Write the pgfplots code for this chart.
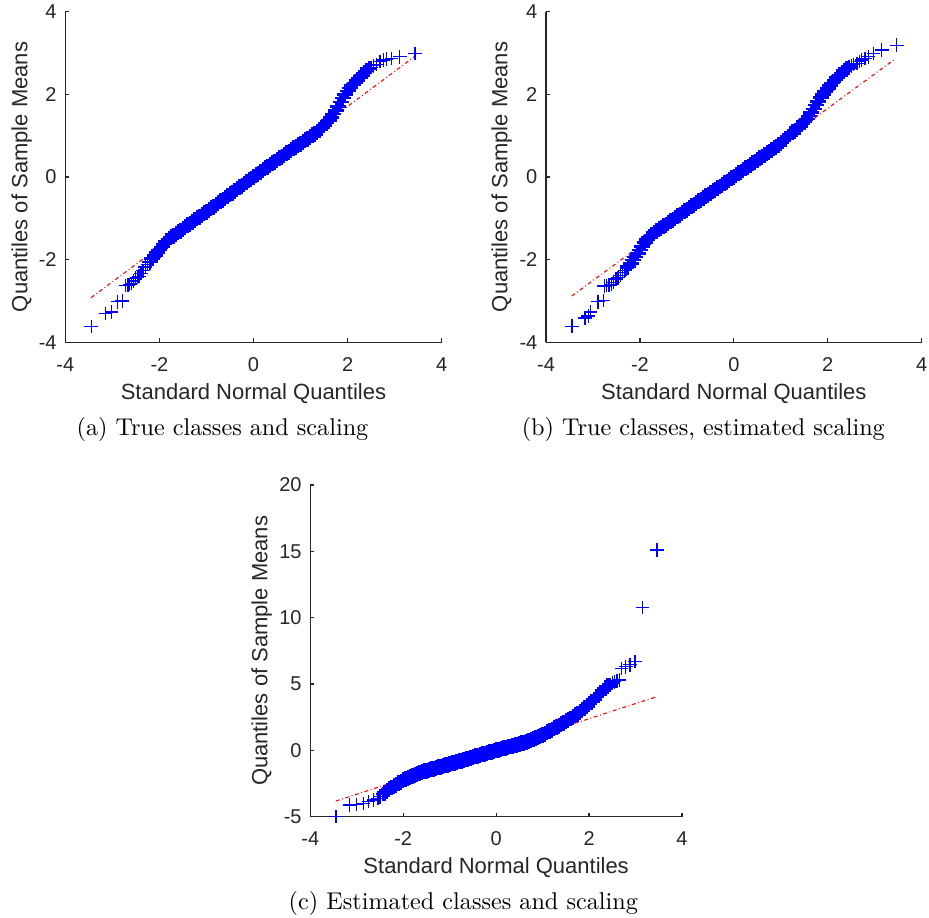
\documentclass[border=0pt]{standalone}
\usepackage{fontspec}
\usepackage{pgfplots}
\pgfplotsset{compat=1.18}
\newfontfamily\lsans{Liberation Sans}
\definecolor{axgray}{gray}{0.15}
\pgfplotsset{
  qq/.style={
    scale only axis, anchor=south west,
    xmin=-4, xmax=4,
    axis x line*=bottom, axis y line*=left,
    axis line style={-, draw=axgray, line width=0.5pt},
    tick style={draw=axgray, line width=0.5pt},
    tick align=inside,
    major tick length=1.65pt,
    xtick={-4,-2,0,2,4}, xticklabels={-4,-2,0,2,4},
    ticklabel style={font=\lsans\fontsize{8.26}{10}\selectfont, text=axgray},
    xticklabel style={anchor=base, yshift=-12.1pt, inner sep=0pt},
    yticklabel style={anchor=east, inner sep=0pt, xshift=-3.4pt},
    label style={font=\lsans\fontsize{9.09}{11}\selectfont, text=axgray},
    xlabel={Standard Normal Quantiles},
    ylabel={Quantiles of Sample Means},
    clip=false,
  },
  qqline/.style={red, line width=0.45pt, dash pattern=on 1.6pt off 1.1pt on 0.35pt off 1.1pt},
  qqpts/.style={only marks, mark=+, color=blue, mark size=2.8pt, mark options={line width=0.55pt}},
  qqdense/.style={only marks, mark=+, color=blue, mark size=3.3pt, mark options={line width=1.0pt}},
}
\begin{document}
\begin{tikzpicture}
% ---------------- (a)
\begin{axis}[qq, at={(26.98pt,237.89pt)}, width=155.54pt, height=136.61pt,
  ymin=-4, ymax=4, ytick={-4,-2,0,2,4}, yticklabels={-4,-2,0,2,4},
  xlabel style={at={(axis description cs:0.5,-0.1745)}, anchor=base},
  ylabel style={at={(axis description cs:-0.101,0.5)}, anchor=base}]
\addplot[qqline] coordinates {(-3.45,-2.92) (3.43,2.92)};
\addplot[qqpts] coordinates {
(-3.45,-3.62) (-3.15,-3.30) (-3.02,-3.27) (-2.89,-3.02) (-2.79,-3.00)
(-2.72,-2.63) (-2.67,-2.62) (-2.63,-2.60) (-2.59,-2.58) (-2.55,-2.52)
(-2.51,-2.45) (-2.47,-2.43) (-2.43,-2.40) (-2.39,-2.33) (-2.35,-2.26) (-2.30,-2.18)
(-2.25,-2.12)
(2.50,2.65) (2.55,2.69) (2.62,2.72) (2.69,2.79) (2.76,2.83) (2.83,2.85) (2.93,2.87)
(3.11,2.91) (3.43,2.99)
};
\addplot[qqdense] coordinates {
(-2.20,-2.05) (-2.15,-1.97) (-2.10,-1.90) (-2.05,-1.83) (-2.00,-1.76)
(-1.95,-1.69) (-1.90,-1.62) (-1.85,-1.56) (-1.80,-1.51) (-1.75,-1.46) (-1.70,-1.42)
(-1.65,-1.38) (-1.60,-1.34) (-1.55,-1.30) (-1.50,-1.26) (-1.45,-1.22) (-1.40,-1.17)
(-1.35,-1.13) (-1.30,-1.09) (-1.25,-1.05) (-1.20,-1.00) (-1.15,-0.96) (-1.10,-0.92)
(-1.05,-0.88) (-1.00,-0.84) (-0.95,-0.80) (-0.90,-0.76) (-0.85,-0.72) (-0.80,-0.67)
(-0.75,-0.63) (-0.70,-0.59) (-0.65,-0.55) (-0.60,-0.51) (-0.55,-0.46) (-0.50,-0.42)
(-0.45,-0.38) (-0.40,-0.34) (-0.35,-0.29) (-0.30,-0.25) (-0.25,-0.21) (-0.20,-0.17)
(-0.15,-0.12) (-0.10,-0.08) (-0.05,-0.04) (0.00,0.00) (0.05,0.04) (0.10,0.08)
(0.15,0.12) (0.20,0.17) (0.25,0.21) (0.30,0.25) (0.35,0.29) (0.40,0.33)
(0.45,0.37) (0.50,0.41) (0.55,0.45) (0.60,0.49) (0.65,0.53) (0.70,0.57)
(0.75,0.61) (0.80,0.65) (0.85,0.69) (0.90,0.73) (0.95,0.77) (1.00,0.81)
(1.05,0.85) (1.10,0.89) (1.15,0.93) (1.20,0.97) (1.25,1.01) (1.30,1.05)
(1.35,1.09) (1.40,1.14) (1.45,1.19) (1.50,1.25) (1.55,1.31) (1.60,1.37)
(1.65,1.44) (1.70,1.52) (1.75,1.61) (1.80,1.71) (1.85,1.81) (1.90,1.91)
(1.95,2.00) (2.00,2.08) (2.05,2.15) (2.10,2.22) (2.15,2.28) (2.20,2.34)
(2.25,2.40) (2.30,2.46) (2.35,2.51) (2.40,2.56) (2.45,2.61)
};
\end{axis}
% ---------------- (b)
\begin{axis}[qq, at={(225.62pt,237.89pt)}, width=155.25pt, height=136.61pt,
  ymin=-4, ymax=4, ytick={-4,-2,0,2,4}, yticklabels={-4,-2,0,2,4},
  xlabel style={at={(axis description cs:0.5,-0.1745)}, anchor=base},
  ylabel style={at={(axis description cs:-0.1025,0.5)}, anchor=base}]
\addplot[qqline] coordinates {(-3.45,-2.88) (3.45,2.87)};
\addplot[qqpts] coordinates {
(-3.45,-3.61) (-3.17,-3.41) (-3.10,-3.36) (-3.05,-3.27) (-2.89,-3.02) (-2.78,-2.99)
(-2.76,-2.64) (-2.71,-2.63) (-2.66,-2.62) (-2.61,-2.60) (-2.56,-2.55) (-2.51,-2.47)
(-2.47,-2.44) (-2.42,-2.38) (-2.37,-2.31) (-2.32,-2.26) (-2.28,-2.22)
(2.50,2.69) (2.55,2.72) (2.62,2.75) (2.68,2.80) (2.72,2.83) (2.79,2.87) (2.86,2.91)
(2.97,2.99) (3.15,3.07) (3.47,3.19)
};
\addplot[qqdense] coordinates {
(-2.25,-2.17) (-2.20,-2.09) (-2.15,-2.01) (-2.10,-1.93) (-2.05,-1.85) (-2.00,-1.77)
(-1.95,-1.68) (-1.90,-1.59) (-1.85,-1.51) (-1.80,-1.46) (-1.75,-1.41) (-1.70,-1.36)
(-1.65,-1.31) (-1.60,-1.27) (-1.55,-1.23) (-1.50,-1.19) (-1.45,-1.15) (-1.40,-1.11)
(-1.35,-1.07) (-1.30,-1.03) (-1.25,-0.99) (-1.20,-0.95) (-1.15,-0.91) (-1.10,-0.87)
(-1.05,-0.83) (-1.00,-0.79) (-0.95,-0.75) (-0.90,-0.71) (-0.85,-0.67) (-0.80,-0.63)
(-0.75,-0.59) (-0.70,-0.55) (-0.65,-0.51) (-0.60,-0.47) (-0.55,-0.43) (-0.50,-0.39)
(-0.45,-0.35) (-0.40,-0.31) (-0.35,-0.27) (-0.30,-0.23) (-0.25,-0.19) (-0.20,-0.15)
(-0.15,-0.11) (-0.10,-0.07) (-0.05,-0.03) (0.00,0.01) (0.05,0.05) (0.10,0.09)
(0.15,0.13) (0.20,0.17) (0.25,0.21) (0.30,0.25) (0.35,0.29) (0.40,0.33)
(0.45,0.37) (0.50,0.41) (0.55,0.45) (0.60,0.49) (0.65,0.53) (0.70,0.57)
(0.75,0.61) (0.80,0.65) (0.85,0.69) (0.90,0.73) (0.95,0.78) (1.00,0.83)
(1.05,0.88) (1.10,0.93) (1.15,0.98) (1.20,1.03) (1.25,1.08) (1.30,1.12)
(1.35,1.17) (1.40,1.22) (1.45,1.28) (1.50,1.34) (1.55,1.41) (1.60,1.48)
(1.65,1.56) (1.70,1.65) (1.75,1.74) (1.80,1.83) (1.85,1.92) (1.90,2.00)
(1.95,2.07) (2.00,2.14) (2.05,2.21) (2.10,2.28) (2.15,2.35) (2.20,2.41)
(2.25,2.46) (2.30,2.51) (2.35,2.56) (2.40,2.61) (2.45,2.65)
};
\end{axis}
% ---------------- (c)
\begin{axis}[qq, at={(128.22pt,41.86pt)}, width=153.59pt, height=137.07pt,
  ymin=-5, ymax=20, ytick={-5,0,5,10,15,20}, yticklabels={-5,0,5,10,15,20},
  xlabel style={at={(axis description cs:0.5,-0.1727)}, anchor=base},
  ylabel style={at={(axis description cs:-0.1157,0.5)}, anchor=base}]
\addplot[qqline] coordinates {(-3.45,-3.82) (3.46,4.05)};
\addplot[qqpts] coordinates {
(-3.45,-5.00) (-3.15,-4.12) (-3.00,-4.07) (-2.86,-3.99) (-2.75,-3.87) (-2.64,-3.74)
(-2.54,-3.62) (-2.50,-3.50) (-2.45,-3.30)
(2.45,4.96) (2.50,5.08) (2.55,5.17) (2.60,5.24)
(2.65,5.30) (2.70,6.18) (2.79,6.30) (2.88,6.45) (2.99,6.68) (3.15,10.78)
(3.46,15.10)
};
\addplot[qqdense] coordinates {
(-2.40,-3.18) (-2.35,-3.04) (-2.30,-2.92) (-2.25,-2.80) (-2.20,-2.69)
(-2.15,-2.58) (-2.10,-2.47) (-2.05,-2.36) (-2.00,-2.25) (-1.95,-2.15) (-1.90,-2.06)
(-1.85,-1.98) (-1.80,-1.91) (-1.75,-1.84) (-1.70,-1.77) (-1.65,-1.71) (-1.60,-1.65)
(-1.55,-1.59) (-1.50,-1.53) (-1.45,-1.47) (-1.40,-1.42) (-1.35,-1.37) (-1.30,-1.32)
(-1.25,-1.27) (-1.20,-1.22) (-1.15,-1.17) (-1.10,-1.12) (-1.05,-1.07) (-1.00,-1.02)
(-0.95,-0.97) (-0.90,-0.92) (-0.85,-0.87) (-0.80,-0.82) (-0.75,-0.77) (-0.70,-0.72)
(-0.65,-0.67) (-0.60,-0.62) (-0.55,-0.56) (-0.50,-0.51) (-0.45,-0.46) (-0.40,-0.41)
(-0.35,-0.36) (-0.30,-0.30) (-0.25,-0.25) (-0.20,-0.20) (-0.15,-0.15) (-0.10,-0.10)
(-0.05,-0.05) (0.00,0.02) (0.05,0.06) (0.10,0.11) (0.15,0.15) (0.20,0.20)
(0.25,0.24) (0.30,0.29) (0.35,0.33) (0.40,0.38) (0.45,0.43) (0.50,0.48)
(0.55,0.53) (0.60,0.59) (0.65,0.65) (0.70,0.71) (0.75,0.78) (0.80,0.85)
(0.85,0.92) (0.90,1.00) (0.95,1.08) (1.00,1.17) (1.05,1.26) (1.10,1.36)
(1.15,1.46) (1.20,1.56) (1.25,1.66) (1.30,1.76) (1.35,1.86) (1.40,1.96)
(1.45,2.07) (1.50,2.18) (1.55,2.29) (1.60,2.40) (1.65,2.52) (1.70,2.64)
(1.75,2.77) (1.80,2.91) (1.85,3.05) (1.90,3.20) (1.95,3.35) (2.00,3.50)
(2.05,3.66) (2.10,3.83) (2.15,4.00) (2.20,4.17) (2.25,4.34) (2.30,4.51)
(2.35,4.67) (2.40,4.82)
};
\end{axis}
% captions
\node[anchor=base, font=\fontsize{10}{12}\selectfont] at (91.94pt,199.38pt) {(a) True classes and scaling};
\node[anchor=base, font=\fontsize{10}{12}\selectfont] at (290.63pt,199.38pt) {(b) True classes, estimated scaling};
\node[anchor=base, font=\fontsize{10}{12}\selectfont] at (191.45pt,3.4pt) {(c) Estimated classes and scaling};
\pgfresetboundingbox
\path[use as bounding box] (0,0) rectangle (383.88pt,379.34pt);
\end{tikzpicture}
\end{document}
